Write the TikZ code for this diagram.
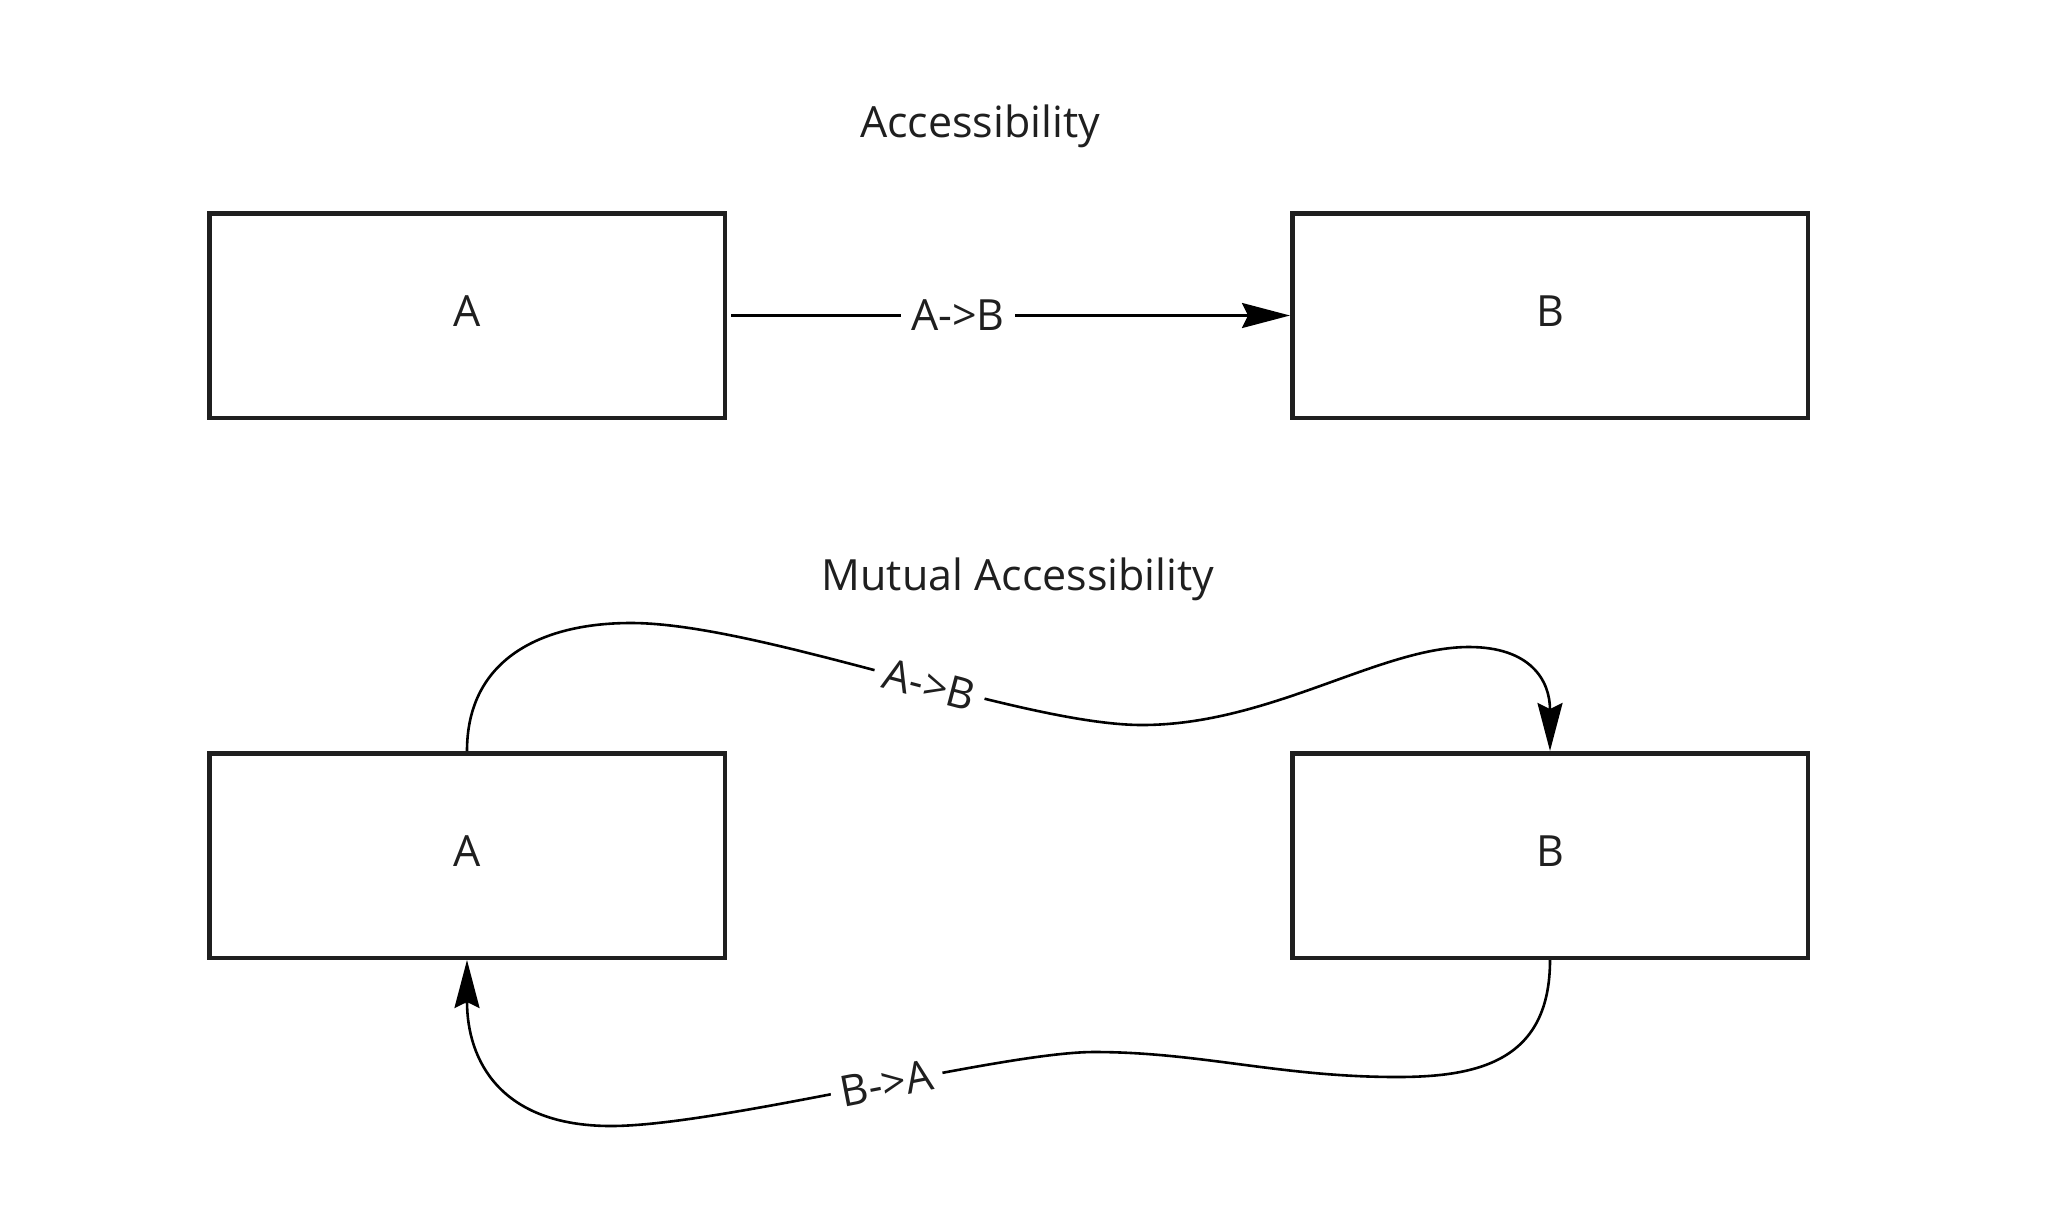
\documentclass[tikz,border=0pt]{standalone}
\usepackage{fontspec}
\setmainfont{Open Sans}
\usetikzlibrary{arrows.meta, positioning}

\begin{document}
\begin{tikzpicture}[
    x=0.5pt, y=-0.5pt,
    node distance=165.5pt and 281.5pt,
    world/.style={rectangle, draw=black!88, line width=2.25pt, minimum width=257.75pt, minimum height=102.25pt, text depth=4.5pt, font=\fontsize{21.5}{26}\selectfont, text=black!88},
    heading/.style={font=\fontsize{21.5}{26}\selectfont, text=black!88, anchor=base},
    arrow/.style={-{Stealth[length=24pt, width=12.5pt, inset=3pt]}, line width=1.3pt, black},
    label_style/.style={font=\fontsize{21.5}{26}\selectfont, fill=white, inner sep=5pt, text=black!88}
]
\useasboundingbox (0,0) rectangle (2057,1211);

% single direction
\node[heading] (title_one) at (980,137) {Accessibility};
\node[world] (a_one) at (467,315.5) {A};
\node[world, right=of a_one] (b_one) {B};
\draw[arrow, shorten <=2pt] (a_one) -- node[pos=0.41, label_style] {A->B} (b_one);

% both directions
\node[heading] (title_two) at (1018,590) {Mutual Accessibility};
\node[world, below=of a_one] (a_two) {A};
\node[world, below=of b_one] (b_two) {B};

\draw[arrow] (a_two.north) .. controls (467,660) and (540,623) .. (631,623)
    .. controls (760,623) and (1020,725) .. node[pos=0.57, sloped, label_style] {A->B} (1142,725)
    .. controls (1270,725) and (1380,647) .. (1469,647)
    .. controls (1530,647) and (1550,680) .. (b_two.north);
\draw[arrow] (b_two.south) .. controls (1550,1060) and (1480,1077) .. (1397,1077)
    .. controls (1280,1077) and (1200,1052) .. (1094,1052)
    .. controls (1000,1052) and (720,1126) .. node[pos=0.45, sloped, label_style] {B->A} (611,1126)
    .. controls (500,1126) and (467,1060) .. (a_two.south);
\end{tikzpicture}
\end{document}
